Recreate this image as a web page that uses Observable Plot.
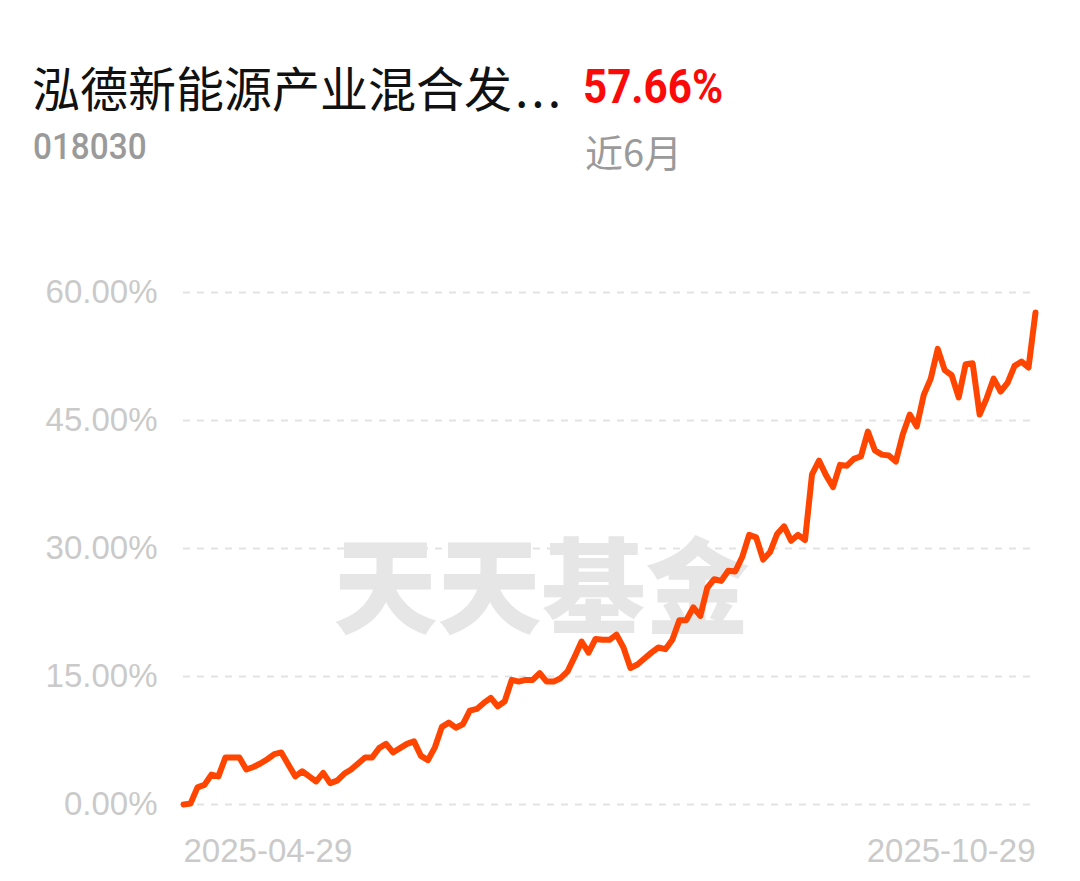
<!DOCTYPE html>
<html><head><meta charset="utf-8">
<script src="https://cdn.jsdelivr.net/npm/d3@7"></script>
<script src="https://cdn.jsdelivr.net/npm/@observablehq/plot@0.6"></script>
<style>
body{margin:0;background:#fff;width:1080px;height:881px;overflow:hidden;font-family:"Noto Sans CJK SC",sans-serif}
#header{position:relative;height:200px}
#header div{position:absolute;white-space:nowrap;line-height:1}
#title{left:32px;top:62px;font-size:48px;color:#111}
#title span{letter-spacing:3px;margin-left:3px}
#ret{left:583px;top:62px;font-size:49px;color:#fb0a0a;font-weight:700;font-family:Roboto,sans-serif;transform:scaleX(0.86);transform-origin:left center}
#code{left:33px;top:128px;font-size:37px;color:#9a9a9a;font-weight:500;font-family:Roboto,sans-serif;transform:scaleX(0.9);transform-origin:left center}
#period{left:585px;top:132px;font-size:38px;color:#9a9a9a}
</style></head><body>
<div id="header">
 <div id="title">泓德新能源产业混合发<span>...</span></div>
 <div id="ret">57.66%</div>
 <div id="code">018030</div>
 <div id="period">近6月</div>
</div>
<div id="chart"></div>
<script>
const returns = [0, 0.1, 2.0, 2.3, 3.5, 3.3, 5.5, 5.5, 5.5, 4.1, 4.4, 4.8, 5.3, 5.9, 6.1, 4.7, 3.3, 3.9, 3.3, 2.7,
 3.7, 2.5, 2.8, 3.6, 4.1, 4.8, 5.5, 5.5, 6.6, 7.1, 6.1, 6.6, 7.1, 7.4, 5.7, 5.2, 6.7, 9.1, 9.6, 9.0,
 9.4, 11.0, 11.2, 11.9, 12.5, 11.5, 12.1, 14.6, 14.4, 14.6, 14.6, 15.4, 14.4, 14.4, 14.8, 15.6, 17.3, 19.1, 17.8, 19.4,
 19.3, 19.3, 19.9, 18.4, 16.0, 16.4, 17.1, 17.8, 18.4, 18.2, 19.3, 21.6, 21.6, 23.1, 22.1, 25.4, 26.4, 26.2, 27.4, 27.3,
 29.0, 31.6, 31.3, 28.7, 29.6, 31.7, 32.6, 30.9, 31.6, 31.0, 38.7, 40.3, 38.6, 37.2, 39.8, 39.7, 40.5, 40.8, 43.7, 41.5,
 41.0, 40.9, 40.2, 43.4, 45.7, 44.3, 48.0, 49.9, 53.4, 50.9, 50.3, 47.7, 51.6, 51.7, 45.7, 47.6, 49.9, 48.4, 49.4, 51.4,
 51.9, 51.2, 57.66];
const dateLabels = ["2025-04-29", "2025-10-29"];
const yTicks = [0, 15, 30, 45, 60];
const watermark = ["天天基金"];

const n = returns.length;
const axisStyle = {tickSize: 0, fontSize: 33, fill: "#cacaca", label: null};
const chart = Plot.plot({
  width: 1080, height: 681,
  marginTop: 92, marginBottom: 77, marginLeft: 183, marginRight: 45,
  x: {domain: [0, n - 1], axis: null},
  y: {domain: [0, 60], axis: null},
  style: {fontFamily: "'Liberation Sans', Arial, sans-serif", background: "#fff"},
  marks: [
    Plot.gridY(yTicks, {stroke: "#e3e3e3", strokeOpacity: 1, strokeWidth: 2, strokeDasharray: "7,7"}),
    Plot.axisY(yTicks, {...axisStyle, tickPadding: 26, tickFormat: d => d.toFixed(2) + "%"}),
    Plot.axisX([0], {...axisStyle, tickPadding: 34, textAnchor: "start", tickFormat: () => dateLabels[0]}),
    Plot.axisX([n - 1], {...axisStyle, tickPadding: 34, textAnchor: "end", tickFormat: () => dateLabels[1]}),
    Plot.text(watermark, {text: d => d, frameAnchor: "middle", dx: -68, dy: 44, fontSize: 104, fontWeight: 900,
      fill: "#e6e6e6", fontFamily: "'Noto Sans CJK SC'"}),
    Plot.lineY(returns, {stroke: "#ff4500", strokeWidth: 6, strokeLinejoin: "round", strokeLinecap: "round"})
  ]
});
document.getElementById("chart").append(chart);
</script>
</body></html>
